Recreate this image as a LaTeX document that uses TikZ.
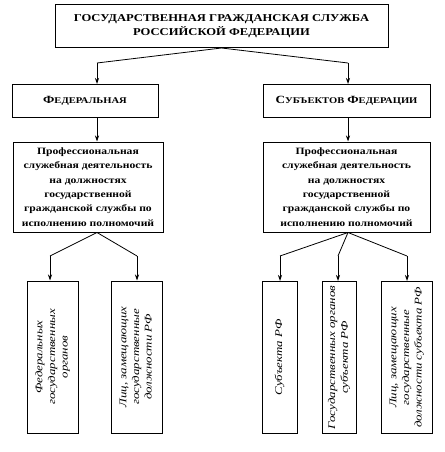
\documentclass[tikz,border=0pt]{standalone}
\usepackage{fontspec}
\setmainfont{Liberation Serif}[FakeStretch=1.2]
\newfontfamily\postfont{Liberation Serif}[FakeStretch=1.25]
\usepackage{graphicx}
\usetikzlibrary{arrows.meta}

% first letter large, rest in smaller capitals
\newcommand{\fsc}[2]{{\fontsize{11}{12}\selectfont #1}{\fontsize{8.8}{10}\selectfont #2}}
\newcommand{\vtext}[1]{\rotatebox{90}{\begin{tabular}{@{}c@{}}#1\end{tabular}}}

\begin{document}
\begin{tikzpicture}[
    x=1pt, y=-1pt,
    box/.style={draw, rectangle, line width=1pt, align=center, inner sep=2pt},
    head/.style={box, font=\fontsize{10.5}{14}\selectfont\bfseries,
                 minimum width=333pt, minimum height=43pt},
    branch/.style={box, font=\bfseries, minimum height=33pt},
    activity/.style={box, font=\fontsize{9.7}{14.3}\selectfont\bfseries, minimum height=90pt},
    post/.style={box, font=\postfont\fontsize{10.3}{12.7}\selectfont\itshape,
                 minimum height=152pt, inner sep=1pt},
    link/.style={line width=0.8pt},
    arrow/.style={link, -{Stealth[length=6pt,width=4pt]}}
]
\useasboundingbox (0,0) rectangle (444,452);

% Top level
\node[head] (gs) at (221.5,26) {ГОСУДАРСТВЕННАЯ ГРАЖДАНСКАЯ СЛУЖБА\\РОССИЙСКОЙ ФЕДЕРАЦИИ};

% Branches
\node[branch, minimum width=146pt] (fed) at (85,101) {\fsc{Ф}{ЕДЕРАЛЬНАЯ}};
\node[branch, minimum width=167pt] (subj) at (346.5,101) {\fsc{С}{УБЪЕКТОВ} \fsc{Ф}{ЕДЕРАЦИИ}};

\coordinate (jfed) at (97,63);
\coordinate (jsubj) at (348,63);
\draw[link] (gs.south) -- (jfed);
\draw[link] (gs.south) -- (jsubj);
\draw[arrow] (jfed) -- (jfed |- fed.north);
\draw[arrow] (jsubj) -- (jsubj |- subj.north);

% Activity boxes
\node[activity, minimum width=150pt] (actfed) at (88,187)
    {Профессиональная\\служебная деятельность\\на должностях\\государственной\\гражданской службы по\\исполнению полномочий};
\node[activity, minimum width=167pt] (actsubj) at (346.5,187)
    {Профессиональная\\служебная деятельность\\на должностях\\государственной\\гражданской службы по\\исполнению полномочий};

\draw[arrow] (jfed |- fed.south) -- (jfed |- actfed.north);
\draw[arrow] (jsubj |- subj.south) -- (jsubj |- actsubj.north);

% Federal posts
\node[post, minimum width=51pt] (fedorg) at (52.5,357)
    {\vtext{Федеральных\\государственных\\органов}};
\node[post, minimum width=51pt] (fedpers) at (136.5,357)
    {\vtext{Лиц, замещающих\\государственные\\должности РФ}};

\coordinate (bfed1) at (50,256);
\coordinate (bfed2) at (137,256);
\draw[link] (jfed |- actfed.south) -- (bfed1);
\draw[link] (jfed |- actfed.south) -- (bfed2);
\draw[arrow] (bfed1) -- (bfed1 |- fedorg.north);
\draw[arrow] (bfed2) -- (bfed2 |- fedpers.north);

% Posts of subjects
\node[post, minimum width=35pt] (subjrf) at (279.5,357.5)
    {\vtext{Субъекта РФ}};
\node[post, minimum width=34pt] (subjorg) at (339,357.5)
    {\vtext{Государственных органов\\субъекта РФ}};
\node[post, minimum width=51pt] (subjpers) at (406.5,357.5)
    {\vtext{Лиц, замещающих\\государственные\\должности субъекта РФ}};

\coordinate (bsubj1) at (280,256);
\coordinate (bsubj2) at (338,256);
\coordinate (bsubj3) at (407,256);
\draw[link] (jsubj |- actsubj.south) -- (bsubj1);
\draw[link] (jsubj |- actsubj.south) -- (bsubj2);
\draw[link] (jsubj |- actsubj.south) -- (bsubj3);
\draw[arrow] (bsubj1) -- (bsubj1 |- subjrf.north);
\draw[arrow] (bsubj2) -- (bsubj2 |- subjorg.north);
\draw[arrow] (bsubj3) -- (bsubj3 |- subjpers.north);

\end{tikzpicture}
\end{document}
